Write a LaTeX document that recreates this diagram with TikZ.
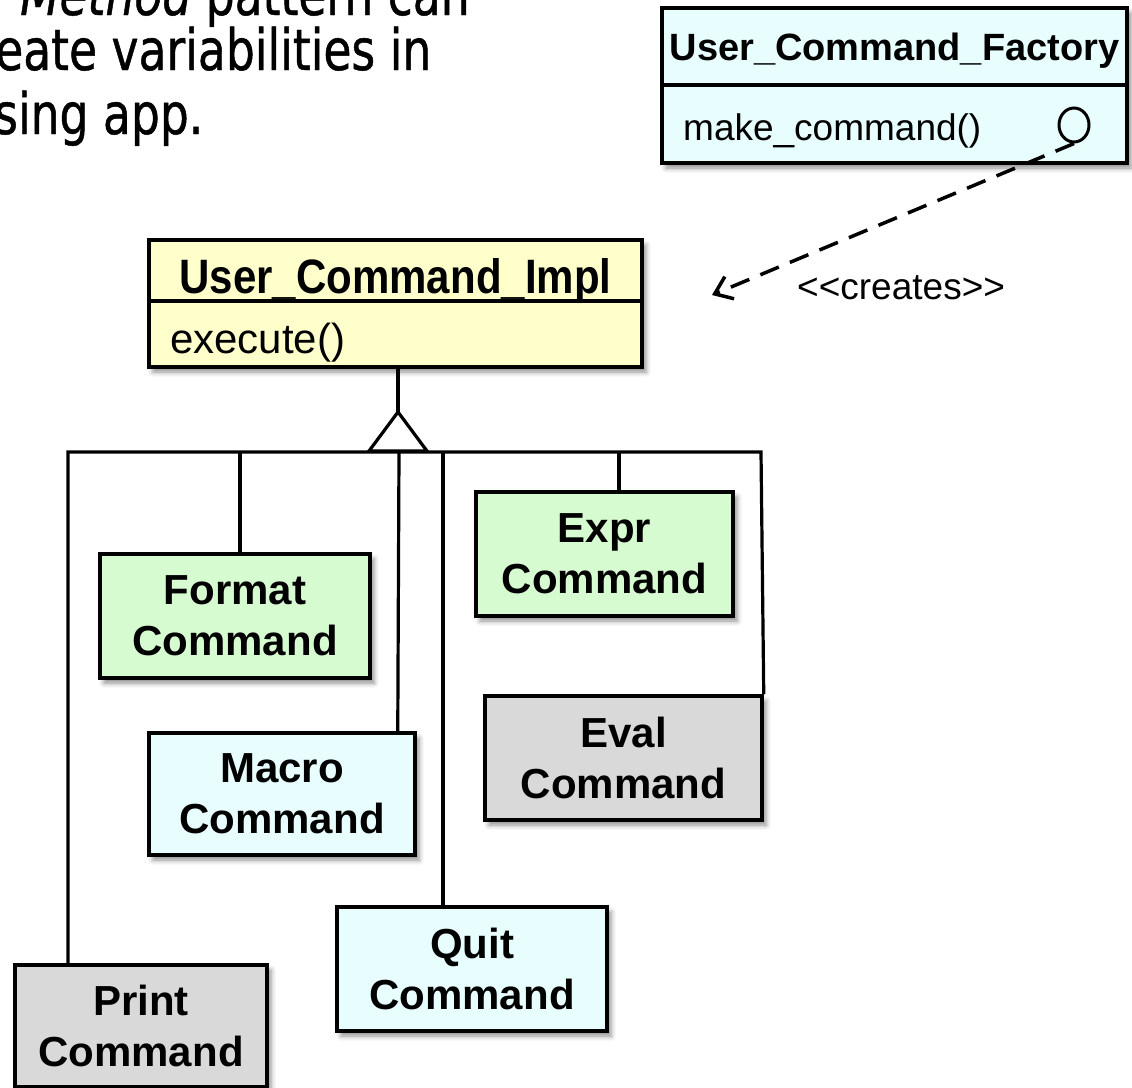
\documentclass[tikz,border=0pt]{standalone}
\usepackage{fontspec}
\usepackage{graphicx}
\setmainfont{Liberation Sans}
\newfontfamily\slidefont{DejaVu Sans}[FakeStretch=0.80,FakeBold=0.8]
\usetikzlibrary{arrows.meta,shapes.geometric,shadows.blur}

\definecolor{paleCyan}{HTML}{E8FDFD}
\definecolor{paleYellow}{HTML}{FFFFCC}
\definecolor{paleGreen}{HTML}{D7FBD1}
\definecolor{paleGray}{HTML}{D9D9D9}

\begin{document}
\begin{tikzpicture}[x=1pt,y=-1pt,
  boxshadow/.style={blur shadow={shadow xshift=4pt,shadow yshift=-5pt,shadow blur radius=5pt,shadow opacity=45}},
  classbox/.style={draw=black,line width=3.5pt,rectangle,inner sep=0pt,boxshadow},
  cmdbox/.style={classbox,align=center,font=\fontsize{42}{51}\selectfont\bfseries},
  link/.style={line width=3.2pt},
  slidetext/.style={anchor=base west,inner sep=0pt,font=\slidefont\fontsize{57}{64}\selectfont},
  opentext/.style={anchor=base west,inner sep=0pt},
]
\useasboundingbox (0,0) rectangle (1132,1087);
\clip (0,0) rectangle (1132,1087);

% slide text
\node[slidetext] (line1) at (20,15) {{\itshape Method} pattern can};
\node[slidetext] (line2) at (-5,70) {eate variabilities in};
\node[slidetext] (line3) at (-6,134) {sing app.};

% factory class
\node[classbox,fill=paleCyan,minimum width=465pt,minimum height=155pt] (factory) at (894.5,85.5) {};
\coordinate (fdiv) at (0,85);
\draw[line width=3.5pt] (factory.west |- fdiv) -- (factory.east |- fdiv);
\node[anchor=base,inner sep=0pt,font=\fontsize{38}{44}\selectfont\bfseries] (factorytitle) at (894.5,60) {User\_Command\_Factory};
\node[opentext,font=\fontsize{37}{44}\selectfont] (makecmd) at (683,140) {make\_command()};
\node[ellipse,draw,line width=3pt,minimum width=30pt,minimum height=34pt,inner sep=0pt] (port) at (1074,125) {};

% creates dependency
\coordinate (createtip) at (712,295);
\draw[link,line width=3.5pt,dash pattern=on 20pt off 12pt,-{Straight Barb[length=16pt,width=24pt]}] (port.south) -- (createtip);
\node[opentext,font=\fontsize{37}{44}\selectfont] (creates) at (797,299) {<\kern0pt<creates>\kern0pt>};

% base class
\node[classbox,fill=paleYellow,minimum width=493pt,minimum height=127pt] (impl) at (395.5,303.5) {};
\coordinate (idiv) at (0,301);
\draw[line width=3.5pt] (impl.west |- idiv) -- (impl.east |- idiv);
\node[anchor=base,inner sep=0pt,font=\fontsize{42}{50}\selectfont\bfseries] (impltitle) at (395.5,293) {\scalebox{1}[1.15]{User\_Command\_Impl}};
\node[opentext,font=\fontsize{42}{50}\selectfont] (implop) at (170,353) {execute()};

% subclasses
\node[cmdbox,fill=paleGreen,minimum width=270pt,minimum height=124pt] (format) at (235,616) {Format\\Command};
\node[cmdbox,fill=paleGreen,minimum width=257pt,minimum height=124pt] (expr) at (604.5,554) {Expr\\Command};
\node[cmdbox,fill=paleGray,minimum width=277pt,minimum height=124pt] (eval) at (623.5,758) {Eval\\Command};
\node[cmdbox,fill=paleCyan,minimum width=266pt,minimum height=122pt] (macro) at (282,794) {Macro\\Command};
\node[cmdbox,fill=paleCyan,minimum width=270pt,minimum height=124pt] (quit) at (472,969) {Quit\\Command};
\node[cmdbox,fill=paleGray,minimum width=252pt,minimum height=122pt] (print) at (141,1026) {Print\\Command};

% generalization tree
\coordinate (apex) at (398,412);
\coordinate (triL) at (369,451);
\coordinate (triR) at (427,451);
\coordinate (barL) at (68,452);
\coordinate (barR) at (761,452);
\coordinate (bFormat) at (240,452);
\coordinate (bMacro) at (399,452);
\coordinate (bQuit) at (443,452);
\coordinate (bExpr) at (619,452);

\draw[link] (impl.south -| apex) -- (apex);
\draw[link] (barL |- print.north) -- (barL) -- (barR) -- (eval.north east);
\draw[link] (bFormat) -- (bFormat |- format.north);
\draw[link] (bMacro) -- ([xshift=-19pt]macro.north east);
\draw[link] (bQuit) -- (bQuit |- quit.north);
\draw[link] (bExpr) -- (bExpr |- expr.north);
\draw[link,fill=white] (apex) -- (triL) -- (triR) -- cycle;
\end{tikzpicture}
\end{document}
